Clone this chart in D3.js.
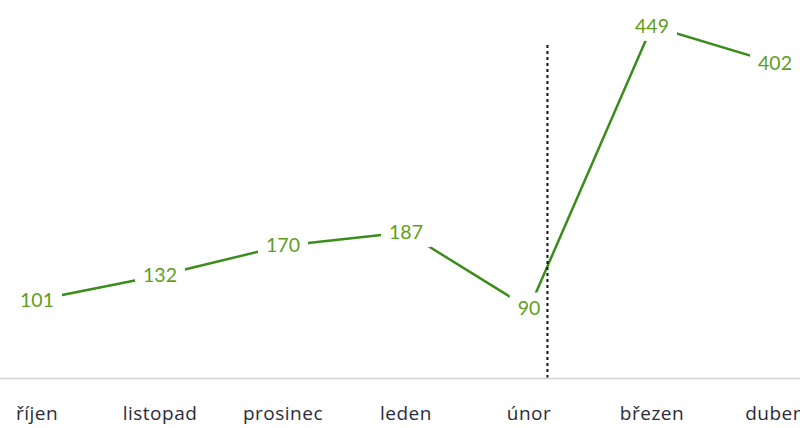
<!DOCTYPE html>
<html>
  <head>
    <meta charset="utf-8">
    <script src="https://d3js.org/d3.v7.min.js"></script>
    <style type="text/css">
      body { margin: 0; background: #fff; }
      svg { display: block; }
      .cat { font-family: "Open Sans", Lato, sans-serif; font-size: 19px; letter-spacing: 0.5px; fill: #2b2b3a; }
      .lbl { font-family: Lato, "Open Sans", sans-serif; font-size: 19.5px; fill: #5f9e1c; }
    </style>
  </head>
  <body>
    <div id="chart"></div>
    <script type="text/javascript">
      var months = ["říjen", "listopad", "prosinec", "leden", "únor", "březen", "duben"];
      var values = [101, 132, 170, 187, 90, 449, 402];
      var markerAt = 4.15; // dashed line, a little after únor

      var width = 800, height = 428;

      var svg = d3.select("#chart").append("svg")
        .attr("width", width)
        .attr("height", height);

      var x = d3.scaleLinear().domain([0, months.length - 1]).range([37, 775]);
      var y = d3.scaleLinear().domain([0, 449]).range([379.5, 26]);

      // axis baseline
      svg.append("line")
        .attr("x1", 0).attr("x2", width)
        .attr("y1", y(0) - 1).attr("y2", y(0) - 1)
        .attr("stroke", "#d2d2d2")
        .attr("stroke-width", 1.5);

      svg.selectAll("text.cat")
        .data(months)
        .enter().append("text")
          .attr("class", "cat")
          .attr("x", function(d, i) { return x(i); })
          .attr("y", 420)
          .attr("text-anchor", "middle")
          .text(function(d) { return d; });

      var line = d3.line()
        .x(function(d, i) { return x(i); })
        .y(function(d) { return y(d); });

      svg.append("path")
        .datum(values)
        .attr("d", line)
        .attr("fill", "none")
        .attr("stroke", "#3a8d1a")
        .attr("stroke-width", 2.5);

      // data labels with white background that cut the line
      var labels = svg.selectAll("g.lbl")
        .data(values)
        .enter().append("g")
          .attr("transform", function(d, i) { return "translate(" + x(i) + "," + y(d) + ")"; });

      labels.append("rect").attr("fill", "#fff");
      labels.append("text")
        .attr("class", "lbl")
        .attr("text-anchor", "middle")
        .attr("dy", "0.35em")
        .text(function(d) { return d; });

      labels.each(function() {
        var g = d3.select(this),
            b = g.select("text").node().getBBox();
        g.select("rect")
          .attr("x", b.x - 8).attr("y", b.y - 4)
          .attr("width", b.width + 16).attr("height", b.height + 8);
      });

      // dashed marker, drawn on top
      svg.append("line")
        .attr("x1", x(markerAt)).attr("x2", x(markerAt))
        .attr("y1", 45).attr("y2", y(0) - 2)
        .attr("stroke", "#111")
        .attr("stroke-width", 2)
        .attr("stroke-dasharray", "3,3");
    </script>
  </body>
</html>
